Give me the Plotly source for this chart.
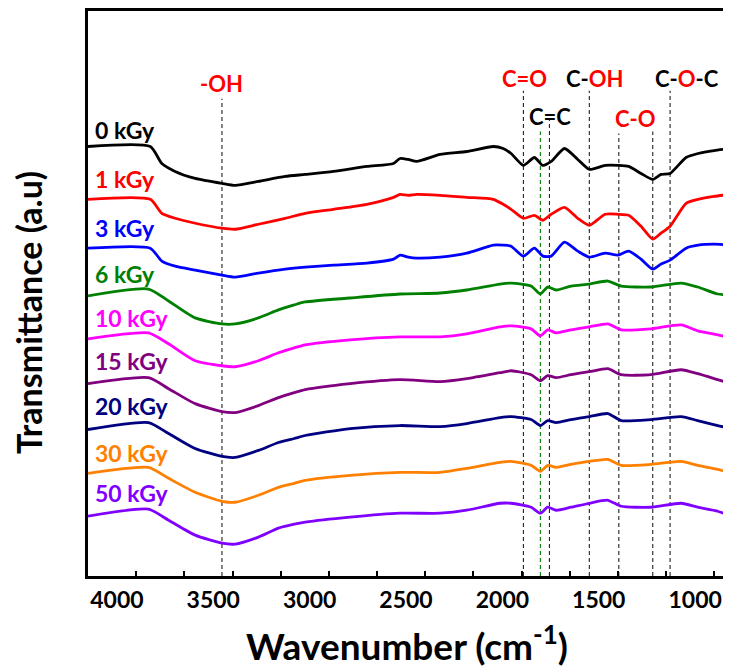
import plotly.graph_objects as go

# ---------------- data ----------------
# wavenumber grids (cm-1)
wn_low_dose = [4150, 3827, 3767, 3698, 3594, 3455, 3386, 3266, 3127, 3023,
               2877, 2703, 2565, 2531, 2489, 2444, 2323, 2185, 2047, 1996,
               1955, 1891, 1834, 1790, 1747, 1678, 1609, 1549, 1467, 1400,
               1345, 1281, 1220, 1177, 1130, 1047, 985, 902, 814]
wn_high_dose = [4150, 3836, 3732, 3594, 3455, 3386, 3266, 3162, 3080, 3023, 2790,
                2531, 2323, 2185, 2012, 1955, 1851, 1803, 1765, 1721, 1644,
                1549, 1453, 1384, 1229, 1073, 987, 883, 814]

# transmittance (a.u., stacked)
t_0kGy = [431, 431, 414, 406, 399, 394, 392, 396, 401, 403,
          406, 411, 414, 419, 418, 416, 423, 426, 431, 429,
          424, 412, 420, 412, 416, 429, 418, 408, 412, 412,
          411, 404, 398, 403, 404, 420, 424, 427, 429]
t_1kGy = [378, 378, 364, 359, 354, 349, 348, 353, 359, 364,
          368, 373, 380, 383, 382, 383, 382, 380, 378, 373,
          368, 359, 362, 357, 363, 370, 359, 352, 363, 363,
          362, 351, 338, 344, 351, 374, 378, 381, 383]
t_3kGy = [329, 329, 316, 311, 307, 302, 300, 304, 308, 310,
          312, 314, 318, 322, 320, 319, 320, 324, 332, 332,
          331, 321, 329, 321, 321, 335, 326, 320, 324, 322,
          326, 318, 308, 313, 317, 329, 332, 333, 332]
t_6kGy = [281, 288, 276, 259, 253, 253, 259, 267, 272, 275, 279,
          283, 284, 287, 293, 294, 291, 283, 290, 287, 291,
          293, 296, 291, 290, 294, 290, 283, 282]
t_10kGy = [238, 244, 233, 216, 211, 210, 216, 224, 229, 232, 237,
           240, 240, 243, 250, 251, 248, 241, 247, 244, 247,
           250, 253, 247, 248, 252, 246, 242, 239]
t_15kGy = [193, 199, 188, 173, 165, 164, 171, 179, 184, 187, 193,
           197, 195, 198, 204, 206, 202, 196, 201, 199, 202,
           205, 208, 202, 202, 207, 203, 197, 193]
t_20kGy = [147, 154, 143, 128, 120, 119, 126, 134, 138, 141, 148,
           151, 150, 153, 159, 160, 157, 151, 156, 154, 157,
           160, 163, 156, 157, 160, 156, 151, 148]
t_30kGy = [103, 109, 98, 84, 75, 74, 81, 89, 93, 96, 101,
           104, 104, 108, 114, 115, 111, 105, 111, 109, 112,
           115, 117, 111, 112, 115, 111, 107, 103]
t_50kGy = [60, 67, 56, 41, 33, 32, 39, 48, 52, 54, 59,
           63, 63, 66, 73, 73, 69, 63, 69, 66, 69,
           73, 76, 70, 69, 73, 69, 65, 60]

dose_labels = ["0 kGy", "1 kGy", "3 kGy", "6 kGy", "10 kGy",
               "15 kGy", "20 kGy", "30 kGy", "50 kGy"]
label_level = [448, 398, 349, 303, 259, 216, 171, 123, 83]

# band assignments
peak_wn = [3455, 1891, 1803, 1756, 1549, 1396, 1220, 1130]
peak_top = [479, 487, 446, 458, 487, 444, 446, 487]
band_names = ["-OH", "C=O", "C=C", "C-OH", "C-O", "C-O-C"]
band_wn = [3455, 1887, 1753, 1522, 1308, 1044]
band_level = [494, 499, 461, 499, 459, 499]

tick_wn = [4000, 3500, 3000, 2500, 2000, 1500, 1000]
minor_wn = [3900, 3650, 3400, 3150, 2900, 2650, 2400, 2150, 1900,
            1650, 1400, 1150, 900]

# ---------------- styling ----------------
RED = "#ff0000"
colors = ["#000000", "#ff0000", "#0000ff", "#008000", "#ff00ff",
          "#800080", "#000080", "#ff8000", "#8000ff"]
FONT = "Lato"

series = [(wn_low_dose, t_0kGy), (wn_low_dose, t_1kGy), (wn_low_dose, t_3kGy),
          (wn_high_dose, t_6kGy), (wn_high_dose, t_10kGy), (wn_high_dose, t_15kGy),
          (wn_high_dose, t_20kGy), (wn_high_dose, t_30kGy), (wn_high_dose, t_50kGy)]

fig = go.Figure()
for (wx, ty), name, col in zip(series, dose_labels, colors):
    fig.add_trace(go.Scatter(x=wx, y=ty, mode="lines", name=name,
                             line=dict(color=col, width=2.8, shape="spline", smoothing=0.6),
                             showlegend=False, hoverinfo="x+y+name"))

# band guide lines
for wn, top in zip(peak_wn, peak_top):
    col = "#008000" if wn == 1803 else "#222222"
    fig.add_shape(type="line", xref="x", yref="y", x0=wn, x1=wn, y0=0, y1=top,
                  line=dict(color=col, width=1.1, dash="4px,3px"), layer="below")

# dose labels
for name, lvl, col in zip(dose_labels, label_level, colors):
    fig.add_annotation(x=4126, y=lvl, xref="x", yref="y", text=name, showarrow=False,
                       xanchor="left", yanchor="middle",
                       font=dict(family=FONT, size=23, color=col, weight="bold"))

# band labels
band_text = {
    "-OH": f"<span style='color:{RED}'>-OH</span>",
    "C=O": f"<span style='color:{RED}'>C=O</span>",
    "C=C": "C=C",
    "C-OH": f"C-<span style='color:{RED}'>OH</span>",
    "C-O": f"<span style='color:{RED}'>C-O</span>",
    "C-O-C": f"C-<span style='color:{RED}'>O</span>-C",
}
for nm, wn, lvl in zip(band_names, band_wn, band_level):
    fig.add_annotation(x=wn, y=lvl, xref="x", yref="y", text=band_text[nm], showarrow=False,
                       xanchor="center", yanchor="middle",
                       font=dict(family=FONT, size=22, color="#000000", weight="bold"))

# axis titles
fig.add_annotation(x=0.496, y=-0.119, xref="paper", yref="paper",
                   text="Wavenumber (cm<sup>-1</sup>)", showarrow=False,
                   xanchor="center", yanchor="middle",
                   font=dict(family=FONT, size=37, color="#000000", weight="bold"))
fig.add_annotation(x=-0.0915, y=0.4656, xref="paper", yref="paper",
                   text="Transmittance (a.u)", showarrow=False, textangle=-90,
                   xanchor="center", yanchor="middle",
                   font=dict(family=FONT, size=34, color="#000000", weight="bold"))

# the page body adds an 8 px offset; size the figure so the plot lands where the reference has it
fig.update_layout(
    width=723, height=663,
    margin=dict(l=80, r=0, t=1, b=95),
    paper_bgcolor="white", plot_bgcolor="white",
    xaxis=dict(range=[4150, 814], tickmode="array", tickvals=tick_wn,
               ticktext=[str(v) for v in tick_wn], ticks="",
               showline=True, linecolor="black", linewidth=3, mirror=True,
               showgrid=False, zeroline=False, ticklabelstandoff=1,
               tickfont=dict(family=FONT, size=23, color="black", weight="bold"),
               minor=dict(tickmode="array", tickvals=minor_wn, ticks="inside",
                          ticklen=5, tickwidth=2, tickcolor="black", showgrid=False)),
    yaxis=dict(range=[0, 567], showline=True, linecolor="black", linewidth=3,
               showticklabels=False, ticks="", showgrid=False, zeroline=False),
)

fig.write_html("out.html")
